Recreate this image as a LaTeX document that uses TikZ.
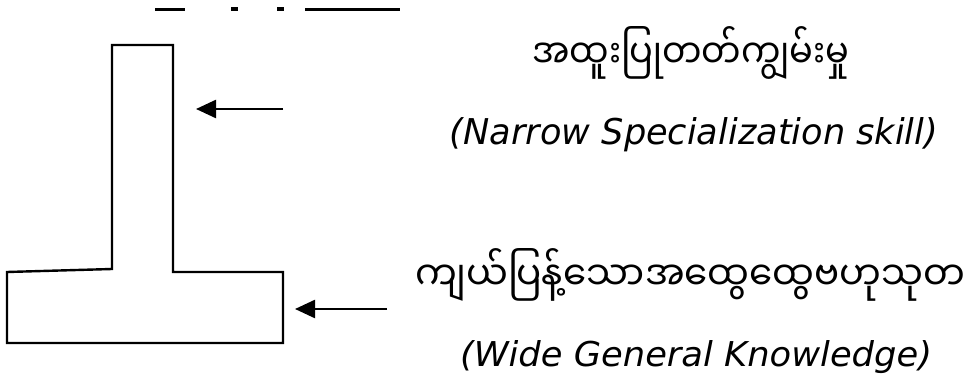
\documentclass[tikz,border=0pt]{standalone}
\usepackage{fontspec}
\usetikzlibrary{arrows.meta}
\setmainfont{DejaVu Sans}
\newfontfamily\mmfont[Script=Myanmar]{Noto Sans Myanmar UI}
\newfontfamily\enfont{DejaVu Sans}
\begin{document}
\begin{tikzpicture}[x=1pt,y=-1pt,
  outline/.style={line width=2.4pt,line join=miter},
  pointer/.style={line width=2.4pt,-{Triangle[length=20pt,width=18pt]}},
  mmtext/.style={inner sep=0pt,anchor=base,font=\mmfont\fontsize{24}{28}\selectfont},
  entext/.style={inner sep=0pt,anchor=base,font=\enfont\itshape\fontsize{26}{30}\selectfont},
  frag/.style={fill=black,draw=none}]
\useasboundingbox (0,0) rectangle (977,374);
% cropped remnants at the top edge
\fill[frag] (155,8.5) rectangle (185,11.5);
\fill[frag] (231,7.5) rectangle (238,11.5);
\fill[frag] (277,7.5) rectangle (284,11.5);
\fill[frag] (305,8) rectangle (400,11.5);
% T shape
\draw[outline] (112,45) -- (173,45) -- (173,272) -- (283,272) -- (283,343)
  -- (7,343) -- (7,272) -- (112,269) -- cycle;
% texts
\node[mmtext] (m1) at (691,69) {\resizebox{317pt}{42pt}{အထူးပြုတတ်ကျွမ်းမှု}};
\node[entext] (e1) at (694,145) {\resizebox{488pt}{27pt}{(Narrow Specialization skill)}};
\node[mmtext] (m2) at (690,290) {\resizebox{550pt}{42pt}{ကျယ်ပြန့်သောအထွေထွေဗဟုသုတ}};
\node[entext] (e2) at (696,366) {\resizebox{472pt}{26pt}{(Wide General Knowledge)}};
% arrows
\coordinate (a1s) at (283,109);
\coordinate (a1e) at (196,109);
\coordinate (a2s) at (387,309);
\coordinate (a2e) at (295,309);
\draw[pointer] (a1s) -- (a1e);
\draw[pointer] (a2s) -- (a2e);
\end{tikzpicture}
\end{document}
